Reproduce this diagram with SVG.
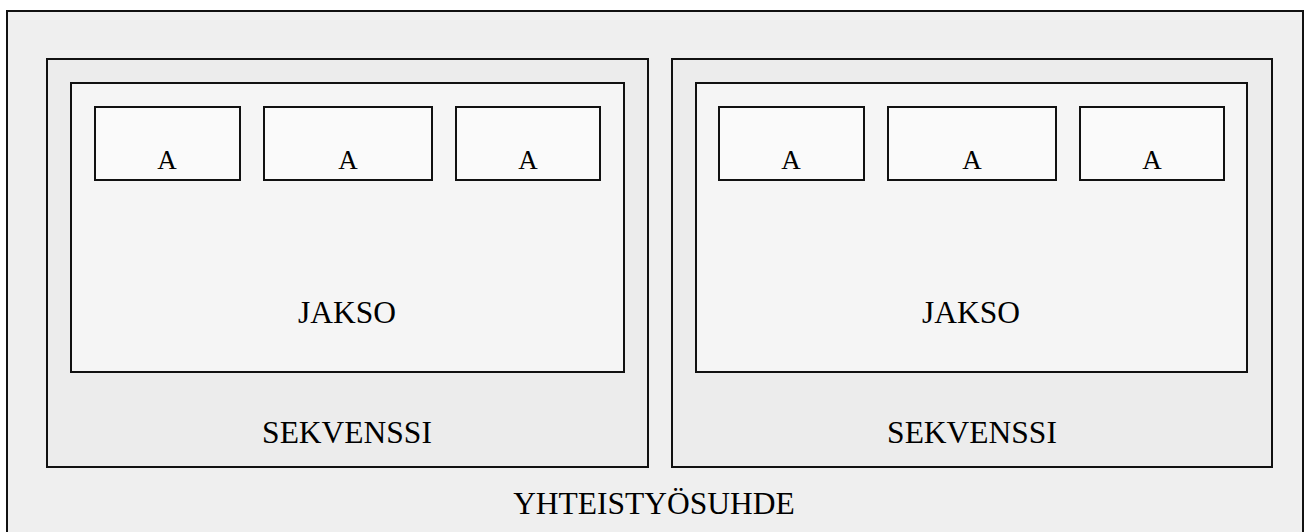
<svg xmlns="http://www.w3.org/2000/svg" width="1305" height="532" viewBox="0 0 1305 532">
  <style>
    rect { stroke: #111; stroke-width: 2; }
    .outer { fill: #efefef; }
    .seq { fill: #ececec; }
    .jakso { fill: #f5f5f5; }
    .a { fill: #fafafa; }
    text { font-family: "Liberation Serif", "Times New Roman", serif; fill: #000; text-anchor: middle; }
    .big { font-size: 31.5px; }
    .small { font-size: 27px; }
  </style>

  <g id="yhteistyosuhde">
    <rect class="outer" x="7" y="11" width="1296" height="540"/>
    <text class="big" x="654" y="514">YHTEISTYÖSUHDE</text>
  </g>

  <g id="sekvenssi-1">
    <rect class="seq" x="47" y="59" width="601" height="408"/>
    <text class="big" x="347" y="443">SEKVENSSI</text>
  </g>
  <g id="jakso-1">
    <rect class="jakso" x="71" y="83" width="553" height="289"/>
    <text class="big" x="347" y="323">JAKSO</text>
  </g>
  <g id="a-1-1">
    <rect class="a" x="95" y="107" width="145" height="73"/>
    <text class="small" x="167" y="169">A</text>
  </g>
  <g id="a-1-2">
    <rect class="a" x="264" y="107" width="168" height="73"/>
    <text class="small" x="348" y="169">A</text>
  </g>
  <g id="a-1-3">
    <rect class="a" x="456" y="107" width="144" height="73"/>
    <text class="small" x="528" y="169">A</text>
  </g>

  <g id="sekvenssi-2">
    <rect class="seq" x="672" y="59" width="600" height="408"/>
    <text class="big" x="972" y="443">SEKVENSSI</text>
  </g>
  <g id="jakso-2">
    <rect class="jakso" x="696" y="83" width="551" height="289"/>
    <text class="big" x="971" y="323">JAKSO</text>
  </g>
  <g id="a-2-1">
    <rect class="a" x="719" y="107" width="145" height="73"/>
    <text class="small" x="791" y="169">A</text>
  </g>
  <g id="a-2-2">
    <rect class="a" x="888" y="107" width="168" height="73"/>
    <text class="small" x="972" y="169">A</text>
  </g>
  <g id="a-2-3">
    <rect class="a" x="1080" y="107" width="144" height="73"/>
    <text class="small" x="1152" y="169">A</text>
  </g>

  <g id="connectors"/>
</svg>
